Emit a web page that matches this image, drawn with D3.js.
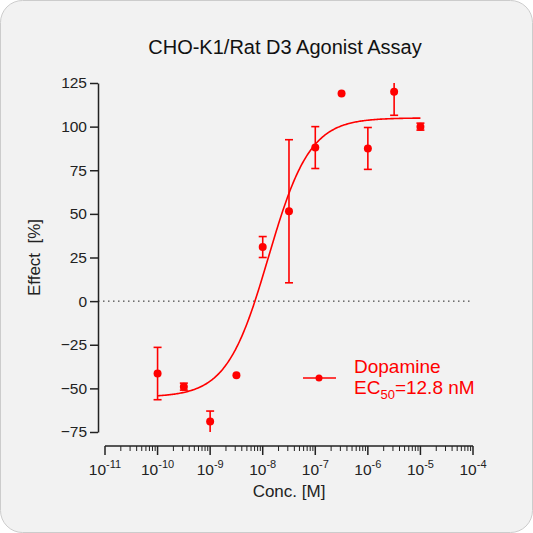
<!DOCTYPE html>
<html><head><meta charset="utf-8">
<script src="https://cdn.jsdelivr.net/npm/d3@7"></script>
<style>body{margin:0;background:#fff}svg{font-family:Arial,"Liberation Sans",sans-serif}</style>
</head><body><div id="chart"></div>
<script>
// data
var conc = [1e-10, 3.16e-10, 1e-9, 3.16e-9, 1e-8, 3.16e-8, 1e-7, 3.16e-7, 1e-6, 3.16e-6, 1e-5]
var effect = [-41.5, -49, -69, -42.5, 31, 51.5, 88, 119, 87.5, 120, 100]
var errors = [15, 2, 6, 0, 6, 41, 12, 0, 12, 13.5, 2]
var fitBottom = -55, fitTop = 105, ec50 = 12.8e-9, hill = 1.1
var yTicks = [-75, -50, -25, 0, 25, 50, 75, 100, 125]
var xDecades = [-11, -10, -9, -8, -7, -6, -5, -4]

var width = 533, height = 533
var svg = d3.select('#chart').append('svg').attr('width', width).attr('height', height)

svg.append('rect').attr('x', 0.5).attr('y', 0.5).attr('width', width - 1).attr('height', height - 1)
  .attr('rx', 22).attr('fill', '#f2f2f2').attr('stroke', '#ccc')

var x = d3.scaleLog().domain([1e-11, 1e-4]).range([105, 473])
var y = d3.scaleLinear().domain([-75, 125]).range([432, 83])

// y axis
var yAxis = svg.append('g').attr('transform', 'translate(98,0)')
  .call(d3.axisLeft(y).tickValues(yTicks).tickSize(8).tickSizeOuter(0))
yAxis.selectAll('text').attr('font-size', 15.5).attr('fill', '#222')
yAxis.selectAll('path,line').attr('stroke', '#222').attr('stroke-width', 1.5)

// x axis with minor ticks
var minor = []
xDecades.slice(0, -1).forEach(d => { for (var k = 2; k < 10; k++) minor.push(k * Math.pow(10, d)) })
var xg = svg.append('g').attr('transform', 'translate(0,446)')
xg.append('line').attr('x1', x(1e-11)).attr('x2', x(1e-4)).attr('stroke', '#222').attr('stroke-width', 1.5)
xg.selectAll('.minor').data(minor).enter().append('line')
  .attr('x1', d => x(d)).attr('x2', d => x(d)).attr('y1', 0).attr('y2', 5).attr('stroke', '#222')
xg.selectAll('.major').data(xDecades).enter().append('line')
  .attr('x1', d => x(Math.pow(10, d))).attr('x2', d => x(Math.pow(10, d))).attr('y1', 0).attr('y2', 9)
  .attr('stroke', '#222').attr('stroke-width', 1.5)
var lab = xg.selectAll('.lab').data(xDecades).enter().append('text')
  .attr('x', d => x(Math.pow(10, d))).attr('y', 29).attr('text-anchor', 'middle')
  .attr('font-size', 15.5).attr('fill', '#222')
lab.append('tspan').text('10')
lab.append('tspan').attr('dy', -7).attr('font-size', 11).text(d => '' + d)

// zero line
svg.append('line').attr('x1', 98).attr('x2', 473).attr('y1', y(0)).attr('y2', y(0))
  .attr('stroke', '#222').attr('stroke-dasharray', '1.5,3.5')

// fit curve
var fit = d3.range(-10, -5.0, 0.02).concat([-5]).map(l => {
  var c = Math.pow(10, l)
  return [c, fitBottom + (fitTop - fitBottom) / (1 + Math.pow(ec50 / c, hill))]
})
svg.append('path').datum(fit).attr('fill', 'none').attr('stroke', 'red').attr('stroke-width', 1.6)
  .attr('d', d3.line().x(d => x(d[0])).y(d => y(Math.max(-75, Math.min(125, d[1])))))

// error bars and points
var pts = conc.map((c, i) => ({ c: c, v: effect[i], e: errors[i] }))
var eb = svg.selectAll('.eb').data(pts.filter(d => d.e > 0)).enter().append('g')
  .attr('stroke', 'red').attr('stroke-width', 1.6)
eb.append('line').attr('x1', d => x(d.c)).attr('x2', d => x(d.c))
  .attr('y1', d => y(Math.min(125, d.v + d.e))).attr('y2', d => y(Math.max(-75, d.v - d.e)))
eb.filter(d => d.v + d.e <= 125).append('line').attr('x1', d => x(d.c) - 4).attr('x2', d => x(d.c) + 4)
  .attr('y1', d => y(d.v + d.e)).attr('y2', d => y(d.v + d.e))
eb.filter(d => d.v - d.e > -75).append('line').attr('x1', d => x(d.c) - 4).attr('x2', d => x(d.c) + 4)
  .attr('y1', d => y(d.v - d.e)).attr('y2', d => y(d.v - d.e))
svg.selectAll('.pt').data(pts).enter().append('circle')
  .attr('cx', d => x(d.c)).attr('cy', d => y(d.v)).attr('r', 4).attr('fill', 'red')

// legend
svg.append('line').attr('x1', 303).attr('x2', 336).attr('y1', 378).attr('y2', 378).attr('stroke', 'red').attr('stroke-width', 1.6)
svg.append('circle').attr('cx', 319).attr('cy', 378).attr('r', 3.5).attr('fill', 'red')
svg.append('text').attr('x', 354).attr('y', 373).attr('font-size', 19).attr('fill', 'red').text('Dopamine')
var ec = svg.append('text').attr('x', 354).attr('y', 394).attr('font-size', 19).attr('fill', 'red')
ec.append('tspan').text('EC')
ec.append('tspan').attr('dy', 5).attr('font-size', 13).text('50')
ec.append('tspan').attr('dy', -5).text('=12.8 nM')

// titles
svg.append('text').attr('x', 285).attr('y', 54).attr('text-anchor', 'middle').attr('font-size', 20).attr('fill', '#111')
  .text('CHO-K1/Rat D3 Agonist Assay')
svg.append('text').attr('x', 289).attr('y', 497).attr('text-anchor', 'middle').attr('font-size', 17).attr('fill', '#222')
  .text('Conc. [M]')
svg.append('text').attr('transform', 'translate(40,' + y(25) + ') rotate(-90)').attr('text-anchor', 'middle')
  .attr('font-size', 17).attr('fill', '#222').attr('xml:space', 'preserve').text('Effect  [%]')
</script></body></html>
